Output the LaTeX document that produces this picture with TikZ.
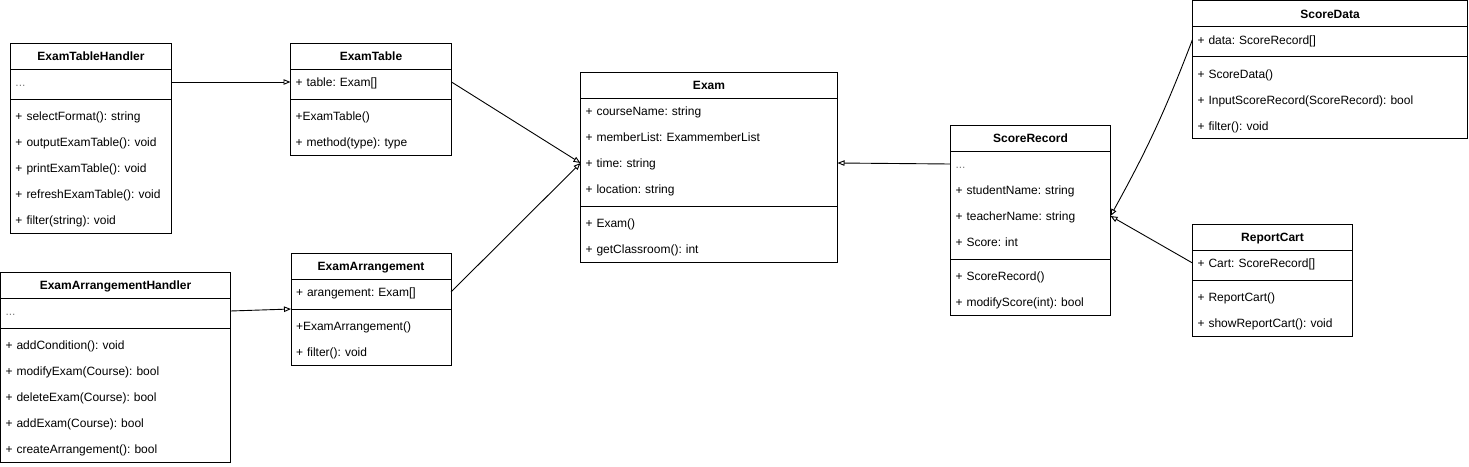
\documentclass[tikz,border=0pt]{standalone}
\usepackage{fontspec}
\setmainfont{Liberation Sans}
\usetikzlibrary{arrows.meta,calc}
\frenchspacing

\tikzset{
  classbox/.style={draw=black, line width=1pt, fill=white, inner sep=0pt, outer sep=0pt, rectangle},
  rowcell/.style={inner xsep=5pt, inner ysep=0pt, outer sep=0pt, align=left,
    text height=17.5pt, text depth=8.5pt, font=\fontsize{12}{14}\selectfont\frenchspacing, anchor=north west},
  titlecell/.style={rowcell, align=center, font=\bfseries\fontsize{12}{14}\selectfont},
  sepline/.style={draw=black, line width=1pt},
  assoc/.style={draw=black, line width=0.9pt, -{Triangle[open,length=7pt,width=5.5pt]}},
}

% #1 name, #2 x, #3 y(top), #4 width, #5 n attrs, #6 n methods, #7 title, #8 attrs, #9 methods
\newcommand{\umlclass}[9]{%
  \pgfmathsetmacro{\uh}{26+26*#5+8+26*#6}%
  \pgfmathsetmacro{\utw}{#4-10}%
  \pgfmathsetmacro{\usep}{26+26*#5+4}%
  \pgfmathsetmacro{\umt}{26+26*#5+8}%
  \node[classbox, minimum width=#4pt, minimum height=\uh pt, anchor=north west] (#1) at (#2,#3) {};
  \node[titlecell, text width=\utw pt] (#1-t) at (#1.north west) {#7};
  \draw[sepline] ([yshift=-26pt]#1.north west) -- ([yshift=-26pt]#1.north east);
  \draw[sepline] ([yshift=-\usep pt]#1.north west) -- ([yshift=-\usep pt]#1.north east);
  \coordinate (#1-sepw) at ([yshift=-\usep pt]#1.north west);
  \foreach \t [count=\i] in {#8}{%
    \pgfmathsetmacro{\uy}{26*\i}%
    \node[rowcell, text width=\utw pt] (#1-a\i) at ([yshift=-\uy pt]#1.north west) {\t};
  }%
  \foreach \t [count=\i] in {#9}{%
    \pgfmathsetmacro{\uy}{\umt+26*(\i-1)}%
    \node[rowcell, text width=\utw pt] (#1-m\i) at ([yshift=-\uy pt]#1.north west) {\t};
  }%
}
\newcommand{\graydots}{\textcolor{gray}{...}}

\begin{document}
\begin{tikzpicture}[x=1pt, y=-1pt]
\useasboundingbox (0,0) rectangle (1469,466);
\fill[white] (0,0) rectangle (1469,466);

\umlclass{ETH}{10.5}{43}{161}{1}{5}{ExamTableHandler}
  {\graydots}
  {+ selectFormat(): string, + outputExamTable(): void, + printExamTable(): void, + refreshExamTable(): void, + filter(string): void}

\umlclass{ET}{290.5}{43}{161}{1}{2}{ExamTable}
  {+ table: Exam[]}
  {+ExamTable(), + method(type): type}

\umlclass{EAH}{0.5}{272}{230}{1}{5}{ExamArrangementHandler}
  {\graydots}
  {+ addCondition(): void, + modifyExam(Course): bool, + deleteExam(Course): bool, + addExam(Course): bool, + createArrangement(): bool}

\umlclass{EA}{291}{253}{160}{1}{2}{ExamArrangement}
  {+ arangement: Exam[]}
  {+ExamArrangement(), + filter(): void}

\umlclass{EX}{580.5}{72}{257}{4}{2}{Exam}
  {+ courseName: string, + memberList: ExammemberList, + time: string, + location: string}
  {+ Exam(), + getClassroom(): int}

\umlclass{SR}{950.5}{125}{160}{4}{2}{ScoreRecord}
  {\graydots, + studentName: string, + teacherName: string, + Score: int}
  {+ ScoreRecord(), + modifyScore(int): bool}

\umlclass{SD}{1192.5}{0.5}{275}{1}{3}{ScoreData}
  {+ data: ScoreRecord[]}
  {+ ScoreData(), + InputScoreRecord(ScoreRecord): bool, + filter(): void}

\umlclass{RC}{1192.5}{224}{160}{1}{2}{ReportCart}
  {+ Cart: ScoreRecord[]}
  {+ ReportCart(), + showReportCart(): void}

\draw[assoc] (ETH-a1.east) -- (ET-a1.west);
\draw[assoc] (EAH-a1.east) -- (EA-sepw);
\draw[assoc] (ET-a1.east) -- (EX-a3.west);
\draw[assoc] (EA-a1.east) -- (EX-a3.west);
\draw[assoc] (SR-a1.west) -- (EX-a3.east);
\draw[assoc] (SD-a1.west) to[bend left=4] (SR-a3.east);
\draw[assoc] (RC-a1.west) -- (SR-a3.east);
\end{tikzpicture}
\end{document}
